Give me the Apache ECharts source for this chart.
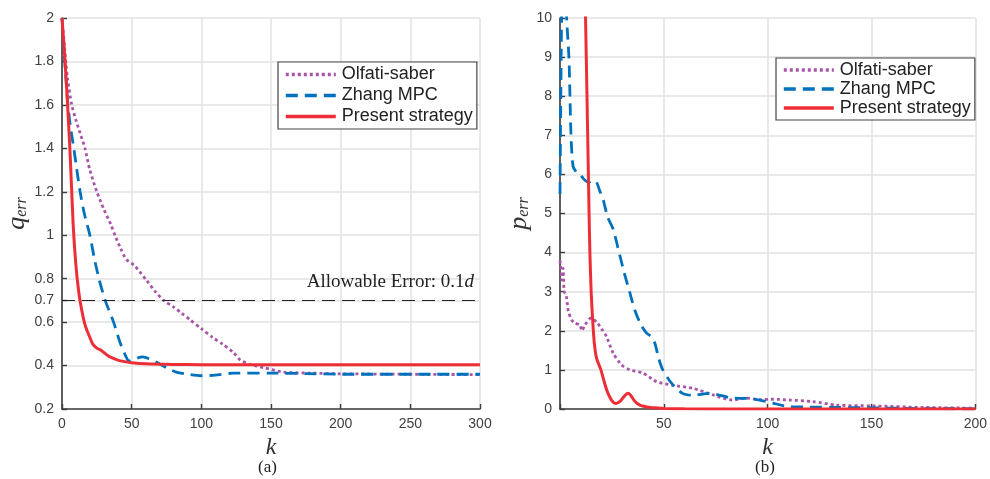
<!DOCTYPE html>
<html>
<head>
<meta charset="utf-8">
<script src="https://cdn.jsdelivr.net/npm/echarts@6/dist/echarts.min.js"></script>
<style>
  html, body { margin: 0; padding: 0; background: #fff; }
  #main { width: 990px; height: 479px; }
</style>
</head>
<body>
<div id="main"></div>
<script>
// (a) position error q_err vs k
let qTicks = [0.2, 0.4, 0.6, 0.7, 0.8, 1, 1.2, 1.4, 1.6, 1.8, 2];
let olfatiQ = [[0,2.0],[2,1.85],[4,1.72],[7,1.6],[10,1.53],[13,1.47],[16.5,1.4],[20,1.3],[25,1.2],[30,1.12],[35,1.05],[38,1.0],[42,0.94],[46,0.89],[52,0.86],[61,0.79],[67,0.74],[73,0.7],[80,0.67],[86,0.64],[92,0.61],[100,0.57],[108,0.53],[115,0.5],[123,0.46],[128,0.425],[135,0.405],[145,0.39],[159,0.37],[180,0.365],[200,0.362],[250,0.36],[300,0.358]];
let zhangQ = [[0,2.0],[2,1.8],[4,1.62],[6,1.5],[8,1.42],[10,1.33],[13,1.2],[16,1.1],[20,1.0],[23,0.9],[26.5,0.8],[31,0.7],[37,0.6],[42,0.5],[46,0.44],[48,0.42],[52,0.43],[58,0.44],[63,0.43],[68,0.415],[75,0.39],[82,0.37],[90,0.36],[100,0.353],[110,0.356],[123,0.365],[150,0.365],[175,0.363],[200,0.36],[250,0.36],[300,0.36]];
let presentQ = [[0,2.0],[2,1.82],[4,1.6],[6,1.35],[8,1.05],[10,0.86],[12,0.74],[14,0.66],[16,0.6],[18,0.56],[20,0.53],[22,0.5],[25,0.48],[28,0.47],[30,0.46],[33,0.445],[36,0.435],[40,0.425],[45,0.418],[50,0.413],[60,0.408],[80,0.405],[100,0.404],[150,0.404],[200,0.404],[250,0.404],[300,0.404]];
let allowableError = 0.7;

// (b) velocity error p_err vs k
let olfatiP = [[0,3.8],[1,3.3],[1.5,3.6],[2,3.0],[3,2.9],[4,2.5],[5.6,2.28],[7,2.2],[9.6,2.15],[10.5,2.0],[12,2.15],[15,2.33],[18,2.2],[20,2.05],[22.4,1.85],[25.6,1.43],[29.6,1.13],[33.6,1.0],[40,0.92],[46.5,0.7],[54,0.61],[64,0.53],[73.7,0.36],[83,0.23],[89.7,0.28],[96,0.24],[102.6,0.25],[110.6,0.23],[121.7,0.19],[133,0.1],[150,0.08],[175,0.04],[200,0.02]];
let zhangP = [[0,5.5],[1,11],[2,12],[3.2,10],[4.3,9],[4.8,8],[5.3,7],[6.3,6.2],[8,6.05],[9.6,6.0],[12,5.85],[14,5.8],[16,5.85],[17.6,5.8],[19,5.6],[20.8,5.35],[23,4.9],[25.6,4.6],[28,4.1],[31,3.47],[33.5,3.0],[36,2.53],[39,2.15],[41.7,1.94],[44,1.85],[45.7,1.68],[47.5,1.3],[49.5,1.0],[53.7,0.66],[59,0.4],[64,0.35],[72,0.4],[83,0.28],[90,0.27],[96,0.23],[102.6,0.15],[110,0.06],[120,0.05],[135,0.04],[150,0.03],[175,0.01],[200,0.005]];
let presentP = [[10,16],[12.3,10],[13,8],[14,5],[14.4,4],[15,3],[15.7,2.3],[16.5,1.7],[17.6,1.3],[19.7,1.0],[21,0.75],[22.4,0.5],[24,0.3],[25.5,0.18],[27,0.14],[29,0.2],[31,0.33],[32.7,0.4],[34,0.35],[36,0.2],[38.5,0.1],[42,0.05],[45,0.03],[50,0.015],[60,0.005],[80,0],[200,0]];

let names = ['Olfati-saber', 'Zhang MPC', 'Present strategy'];
let colors = ['#a855a8', '#0072bd', '#ee2e36'];
let dashes = [[3, 3], [12, 7], 'solid'];

let chart = echarts.init(document.getElementById('main'));

let axisCommon = {
  axisLine: { show: true, lineStyle: { color: '#3c3c3c', width: 1.6 } },
  axisTick: { show: true, inside: true, length: 5, lineStyle: { color: '#3c3c3c', width: 1.4 } },
  axisLabel: { color: '#404040', fontSize: 14, fontFamily: 'Liberation Sans' },
  splitLine: { show: true, lineStyle: { color: '#e2e2e2', width: 1.5 } }
};

function kAxis(gridIndex, max, hideZero) {
  return Object.assign({}, axisCommon, {
    type: 'value', gridIndex: gridIndex, min: 0, max: max, interval: 50,
    name: 'k', nameLocation: 'middle', nameGap: 24,
    nameTextStyle: { fontFamily: 'Liberation Serif', fontStyle: 'italic', fontSize: 24, color: '#333' },
    axisLabel: Object.assign({}, axisCommon.axisLabel, {
      margin: 8,
      formatter: v => (hideZero && v === 0) ? '' : String(v)
    })
  });
}

function errName(letter) {
  return {
    name: '{a|' + letter + '}{b|err}',
    nameLocation: 'middle', nameGap: 27, nameRotate: 90,
    nameTextStyle: {
      rich: {
        a: { fontFamily: 'Liberation Serif', fontStyle: 'italic', fontSize: 26, color: '#333' },
        b: { fontFamily: 'Liberation Serif', fontStyle: 'italic', fontSize: 16, color: '#333', padding: [8, 0, 0, 0] }
      }
    }
  };
}

function makeSeries(i, axisIndex, data) {
  return {
    name: names[i], type: 'line', xAxisIndex: axisIndex, yAxisIndex: axisIndex,
    data: data, showSymbol: false, symbol: 'none', smooth: 0.25, z: 3 + i,
    lineStyle: { color: colors[i], width: i === 2 ? 3 : 2.8, type: dashes[i] },
    itemStyle: { color: colors[i] }
  };
}

function legendAt(left, top, lineH, gap) {
  return {
    data: names, orient: 'vertical', left: left, top: top,
    itemWidth: 50, itemHeight: 10, itemGap: gap,
    padding: [3, 4, 3, 6],
    borderColor: '#444', borderWidth: 1.2, backgroundColor: '#fff',
    selectedMode: false,
    itemStyle: { opacity: 0 },
    lineStyle: { width: 3.6 },
    textStyle: { fontFamily: 'Liberation Sans', fontSize: 18, color: '#222', lineHeight: lineH, padding: [0, 0, 0, 1] }
  };
}

let option = {
  animation: false,
  backgroundColor: '#fff',
  grid: [
    { left: 62, right: 510, top: 18, bottom: 70 },
    { left: 560, right: 14, top: 18, bottom: 70 }
  ],
  legend: [legendAt(278, 62, 19, 2), legendAt(776, 58, 17, 1)],
  xAxis: [kAxis(0, 300, false), kAxis(1, 200, true)],
  yAxis: [
    Object.assign({}, axisCommon, errName('q'), {
      type: 'value', gridIndex: 0, min: 0.2, max: 2, interval: 0.2,
      axisLabel: Object.assign({}, axisCommon.axisLabel, { customValues: qTicks }),
      axisTick: Object.assign({}, axisCommon.axisTick, { customValues: qTicks })
    }),
    Object.assign({}, axisCommon, errName('p'), {
      type: 'value', gridIndex: 1, min: 0, max: 10, interval: 1
    })
  ],
  series: [
    Object.assign(makeSeries(0, 0, olfatiQ), {
      markLine: {
        silent: true, symbol: 'none', animation: false,
        lineStyle: { color: '#222', width: 1.2, type: [13, 7] },
        label: {
          position: 'insideEndTop', distance: [6, 9],
          formatter: '{t|Allowable Error: 0.1}{d|d}',
          rich: {
            t: { fontFamily: 'Liberation Serif', fontSize: 19, color: '#222' },
            d: { fontFamily: 'Liberation Serif', fontStyle: 'italic', fontSize: 19, color: '#222' }
          }
        },
        data: [{ yAxis: allowableError }]
      }
    }),
    makeSeries(1, 0, zhangQ),
    makeSeries(2, 0, presentQ),
    makeSeries(0, 1, olfatiP),
    makeSeries(1, 1, zhangP),
    makeSeries(2, 1, presentP)
  ],
  graphic: [
    { type: 'text', left: 258, top: 459, style: { text: '(a)', font: '17px "Liberation Serif"', fill: '#222' } },
    { type: 'text', left: 755, top: 459, style: { text: '(b)', font: '17px "Liberation Serif"', fill: '#222' } }
  ]
};

chart.setOption(option);
</script>
</body>
</html>
